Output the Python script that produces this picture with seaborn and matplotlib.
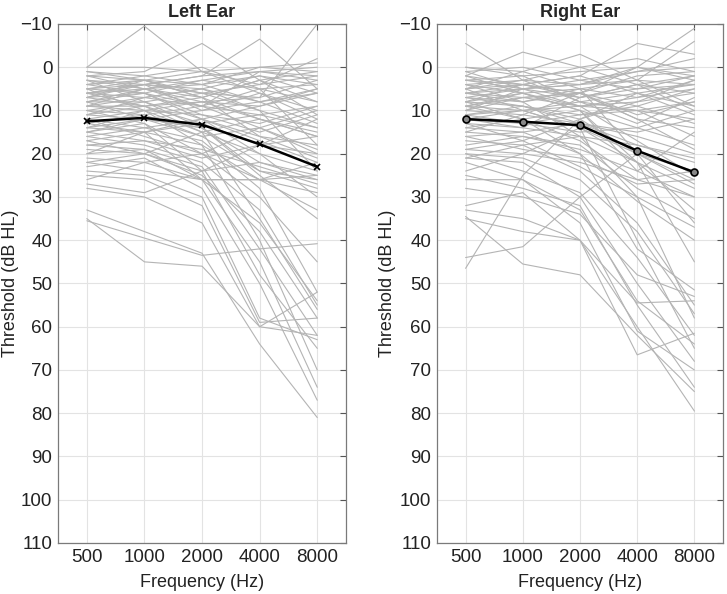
import numpy as np
import pandas as pd
import matplotlib
matplotlib.use("Agg")
import matplotlib.pyplot as plt
import seaborn as sns

freqs = [500, 1000, 2000, 4000, 8000]

# individual audiograms, values (dB HL)
left_ear = [
    [0, -9.5, 1, 6, 10], [2, 1, -5.5, 3, 8], [6, 4, 2, -6.5, 5], [14, 10, 8, 7, -10],
    [0, 0, 1, 0, 1], [1, 2, 4, 0, -1], [3, 5, 3, 1, 2], [4, 3, 6, 4, 2],
    [5, 4, 5, 8, 5], [5, 6, 3, 5, 4], [6, 5, 8, 9, 6], [6, 7, 5, 2, 4],
    [7, 6, 9, 11, 9], [7, 4, 10, 6, 12], [8, 8, 6, 10, 14], [8, 6, 11, 13, 9],
    [9, 9, 8, 12, 15], [9, 5, 7, 3, 11], [10, 8, 12, 9, 5], [10, 11, 9, 14, 20],
    [11, 9, 13, 18, 16], [11, 12, 10, 8, 13], [12, 10, 15, 20, 24], [12, 14, 12, 16, 18],
    [13, 11, 16, 24, 28], [14, 12, 14, 22, 26], [14, 15, 18, 26, 25], [15, 13, 20, 30, 45],
    [16, 14, 17, 28, 52], [16, 18, 22, 33, 55], [17, 15, 12, 20, 30], [18, 19, 26, 26, 22],
    [19, 20, 25, 38, 58], [20, 19, 23, 42, 62], [21, 22, 20, 26, 33], [22, 24, 26, 45, 74],
    [23, 21, 28, 50, 77], [24, 25, 30, 58, 63], [25, 26, 32, 59, 58], [26, 22, 26, 36, 54],
    [27, 29, 24, 18, 20], [28, 30, 36, 60, 52], [33, 38, 43, 64, 81], [35.5, 39.5, 43.5, 42, 40.8],
    [35, 45, 46, 60, 62], [4, 2, 0, 5, 18], [3, 8, 14, 25, 35], [7, 3, 1, 4, -2],
    [2, 5, 9, 1, 3], [9, 7, 5, 10, 24], [12, 16, 20, 14, 10], [6, 9, 15, 35, 56],
    [10, 13, 24, 48, 65], [5, 10, 18, 40, 70], [8, 12, 14, 24, 26], [15, 17, 21, 18, 12],
    [1, 3, 4, 8, 6], [17, 20, 15, 12, 16], [20, 15, 26, 26, 29], [4, 6, 12, 17, 22],
    [3, 4, 2, 1, 0], [5, 3, 7, 3, 1], [6, 4, 6, 7, 3], [8, 5, 4, 2, 6],
    [9, 10, 11, 15, 11], [11, 7, 9, 5, 8], [13, 15, 13, 11, 14], [15, 12, 16, 14, 19],
    [18, 17, 19, 23, 27], [22, 20, 24, 22, 25], [2, 3, 7, 12, 16], [7, 9, 7, 16, 21],
]
right_ear = [
    [-5.5, 3, 8, 10, 12], [2, -3.5, 0, 4, 6], [5, 1, -3, 3, 9], [8, 4, 2, -5.5, -3],
    [10, 7, 6, 0, -9], [6, 5, 4, 3, -6], [0, 2, 1, 0, 2], [1, 0, 3, 5, 4],
    [3, 4, 6, 2, 1], [4, 6, 5, 7, 5], [5, 3, 4, 0, 3], [6, 7, 9, 10, 8],
    [7, 5, 7, 4, 10], [7, 8, 6, 12, 14], [8, 9, 11, 9, 5], [9, 6, 10, 14, 18],
    [9, 10, 8, 6, 11], [10, 11, 13, 16, 20], [11, 9, 12, 20, 24], [11, 13, 11, 10, 16],
    [12, 10, 14, 22, 28], [13, 14, 16, 18, 22], [14, 12, 10, 24, 30], [15, 16, 18, 28, 35],
    [16, 15, 20, 31, 40], [17, 18, 24, 36, 55], [19, 20, 22, 26, 24], [20, 21, 26, 38, 57],
    [20, 24, 29, 44, 62], [21, 22, 30, 50, 68], [22, 26, 33, 54, 64], [24, 20, 14, 20, 26],
    [25, 28, 32, 55, 74], [26, 26, 36, 61, 70], [28, 30, 34, 48, 53], [32, 29, 40, 60, 79.5],
    [33, 35, 40, 66.5, 61.5], [35, 38, 40, 54.5, 54], [44, 41.5, 30, 20, 36], [46.5, 25, 12, 6, 4],
    [34.5, 45.5, 48, 62, 75], [2, 6, 10, 22, 45], [4, 8, 16, 30, 58], [5, 10, 14, 40, 65],
    [8, 12, 20, 42, 51.5], [10, 5, 3, 1, 0], [12, 14, 7, 4, 2], [3, 2, 8, 13, 7],
    [6, 4, 2, 6, 9], [1, 5, 9, 17, 25], [15, 11, 6, 12, 19], [18, 16, 19, 24, 15],
    [9, 12, 17, 26, 30], [13, 17, 12, 8, 3], [0, 1, 5, 20, 27], [7, 9, 13, 15, 12],
    [21, 18, 16, 22, 33], [4, 3, 0, -2, 1],
    [3, 5, 4, 1, -2], [5, 4, 7, 5, 2], [6, 8, 5, 3, 4], [8, 6, 9, 7, 3],
    [9, 7, 6, 11, 8], [11, 10, 9, 8, 6], [12, 13, 15, 14, 10], [14, 15, 13, 18, 21],
    [16, 19, 21, 27, 26], [19, 17, 23, 30, 37], [2, 4, 6, 9, 13],
]

# group means as drawn in the picture
left_mean = [12.5, 11.7, 13.3, 17.8, 23.0]
right_mean = [12.0, 12.6, 13.4, 19.3, 24.3]

sns.set_style("white")
plt.rcParams["font.family"] = ["Liberation Sans", "DejaVu Sans"]


def to_long(rows):
    recs = []
    for i, r in enumerate(rows):
        for f, v in zip(freqs, r):
            recs.append({"subject": i, "freq": f, "thr": v})
    return pd.DataFrame(recs)


fig = plt.figure(figsize=(7.27, 5.94), dpi=100)
ax_l = fig.add_axes([0.0798, 0.0859, 0.3962, 0.8737])
ax_r = fig.add_axes([0.6011, 0.0859, 0.3934, 0.8737])

panels = [
    (ax_l, left_ear, left_mean, "Left Ear", "x", -0.136),
    (ax_r, right_ear, right_mean, "Right Ear", "o", -0.143),
]

for ax, rows, mean, title, mk, ylx in panels:
    df = to_long(rows)
    sns.lineplot(data=df, x="freq", y="thr", units="subject", estimator=None,
                 color="#b4b4b4", linewidth=0.8, ax=ax, legend=False)
    mdf = pd.DataFrame({"freq": freqs, "thr": mean})
    sns.lineplot(data=mdf, x="freq", y="thr", color="black", linewidth=1.8,
                 marker=mk, markersize=5, markeredgewidth=1.2,
                 markerfacecolor="#888888" if mk == "o" else "black",
                 markeredgecolor="black", ax=ax, legend=False)

    ax.set_xscale("log", base=2)
    ax.set_xlim(500 / np.sqrt(2), 8000 * np.sqrt(2))
    ax.set_xticks(freqs)
    ax.set_xticklabels([str(f) for f in freqs])
    ax.minorticks_off()
    ax.set_ylim(110, -10)
    ax.set_yticks(np.arange(-10, 111, 10))
    ax.grid(True, color="#e3e3e3", linewidth=0.8)
    ax.set_axisbelow(True)
    for s in ax.spines.values():
        s.set_visible(True)
        s.set_color("#7a7a7a")
        s.set_linewidth(0.9)
    ax.tick_params(direction="in", length=4, width=0.8, color="#555555",
                   top=True, right=True, labelsize=13.5, labelcolor="#222222", pad=4)
    ax.set_xlabel("Frequency (Hz)", fontsize=13, color="#222222", labelpad=6)
    ax.set_ylabel("Threshold (dB HL)", fontsize=13, color="#222222")
    ax.yaxis.set_label_coords(ylx, 0.5)
    ax.set_title(title, fontsize=13, fontweight="bold", pad=5)

fig.savefig("out.png", dpi=100)
